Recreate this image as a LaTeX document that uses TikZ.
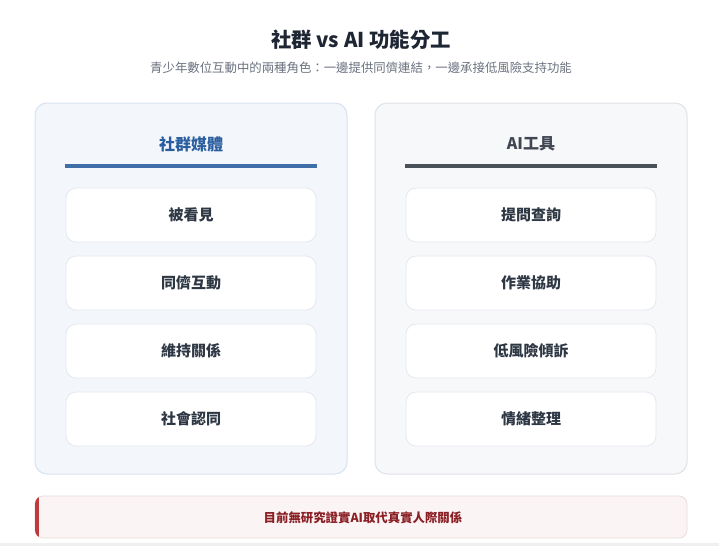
\documentclass[tikz,border=0pt]{standalone}
\usepackage{fontspec}
\setmainfont{Noto Sans CJK TC}
\usetikzlibrary{positioning}
\definecolor{titlec}{HTML}{1F2633}
\definecolor{subc}{HTML}{6B7280}
\definecolor{socfill}{HTML}{F3F6FB}
\definecolor{socline}{HTML}{D9E2F1}
\definecolor{socblue}{HTML}{2B5E9E}
\definecolor{aifill}{HTML}{F7F8FA}
\definecolor{ailine}{HTML}{DFE2E7}
\definecolor{aidark}{HTML}{4A5159}
\definecolor{itemline}{HTML}{E5E8EE}
\definecolor{itemtext}{HTML}{2E3744}
\definecolor{notefill}{HTML}{FBF4F4}
\definecolor{noteline}{HTML}{EADCDC}
\definecolor{notered}{HTML}{C0393B}
\definecolor{notetext}{HTML}{8A1F25}
\tikzset{
  panel/.style={rounded corners=12pt, line width=1pt, minimum width=312pt, minimum height=371pt, inner sep=0pt},
  item/.style={rounded corners=10pt, draw=itemline, fill=white, line width=0.8pt, minimum width=250pt, minimum height=54pt, inner sep=0pt, font=\fontsize{15}{18}\selectfont\bfseries, text=itemtext},
  header/.style={font=\fontsize{16}{19}\selectfont\bfseries}
}
\begin{document}
\begin{tikzpicture}[x=1pt,y=-1pt]
\useasboundingbox (0,0) rectangle (719,546);
\fill[white] (0,0) rectangle (719,546);
\fill[gray!12] (0,543) rectangle (719,546);

\node[text=titlec, font=\fontsize{20.4}{24}\selectfont\bfseries] (title) at (361,40) {社群 vs AI 功能分工};
\node[text=subc, font=\fontsize{12.4}{15}\selectfont] (sub) at (361,68) {青少年數位互動中的兩種角色：一邊提供同儕連結，一邊承接低風險支持功能};

% social media panel
\node[panel, fill=socfill, draw=socline] (soc) at (191,288.5) {};
\node[header, text=socblue] (sochd) at (191,144) {社群媒體};
\draw[socblue!90!white, line width=4pt] (65,166) -- (317,166);
\node[item] (s1) at (191,215) {被看見};
\node[item] (s2) at (191,283) {同儕互動};
\node[item] (s3) at (191,351) {維持關係};
\node[item] (s4) at (191,419) {社會認同};

% AI panel
\node[panel, fill=aifill, draw=ailine] (ai) at (531,288.5) {};
\node[header, text=titlec!85!white] (aihd) at (531,144) {AI工具};
\draw[aidark, line width=4pt] (405,166) -- (657,166);
\node[item] (a1) at (531,215) {提問查詢};
\node[item] (a2) at (531,283) {作業協助};
\node[item] (a3) at (531,351) {低風險傾訴};
\node[item] (a4) at (531,419) {情緒整理};

% note
\node[rounded corners=8pt, fill=notefill, draw=noteline, line width=0.8pt, minimum width=652pt, minimum height=42pt, inner sep=0pt] (note) at (361,517) {};
\begin{scope}
\clip[rounded corners=8pt] (35,496) rectangle (687,538);
\fill[notered] (35,496) rectangle (38.5,538);
\end{scope}
\node[text=notetext, font=\fontsize{12.4}{15}\selectfont\bfseries] (notetxt) at (363,518) {目前無研究證實AI取代真實人際關係};
\end{tikzpicture}
\end{document}
